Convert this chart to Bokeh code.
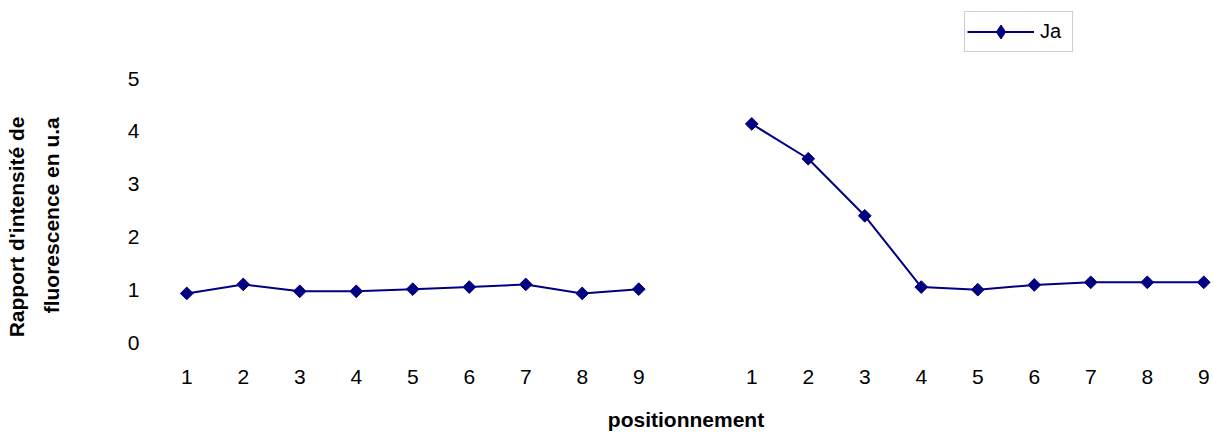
import math
from bokeh.plotting import figure
from bokeh.models import Legend, LegendItem, ColumnDataSource, FixedTicker, Range1d
from bokeh.embed import file_html
from bokeh.resources import INLINE

# ---- data ----
positions = ["1", "2", "3", "4", "5", "6", "7", "8", "9"]
group_a = [0.93, 1.10, 0.97, 0.97, 1.01, 1.05, 1.10, 0.93, 1.01]
group_b = [4.14, 3.48, 2.40, 1.05, 1.00, 1.09, 1.14, 1.14, 1.14]
series_name = "Ja"
y_ticks = [0, 1, 2, 3, 4, 5]
y_title = ["Rapport d'intensité de", "fluorescence en u.a"]
x_title = "positionnement"

# build one series with a blank category between the two groups
labels = positions + [""] + positions
values = group_a + [float("nan")] + group_b
xs = list(range(len(labels)))
src = ColumnDataSource(dict(x=xs, y=values))

W, H = 1213, 434
LEFT = 158
FRAME_H = 342          # frame spans the full height above the x axis
PX_PER_UNIT = 52.8
CAT_W = 56.5
p = figure(width=W, height=H, output_backend="svg", toolbar_location=None,
           min_border_left=LEFT, min_border_right=0, min_border_top=0,
           min_border_bottom=H - FRAME_H,
           x_range=Range1d(-0.5, -0.5 + (W - LEFT) / CAT_W),
           y_range=Range1d(0, FRAME_H / PX_PER_UNIT))
p.outline_line_color = None
p.background_fill_color = "white"
p.border_fill_color = "white"
p.grid.visible = False

navy = "#000080"
ln = p.line("x", "y", source=src, line_color=navy, line_width=2)
sc = p.scatter("x", "y", source=src, marker="square", angle=math.pi / 4,
               size=9, fill_color=navy, line_color=navy)
# legend-only glyph (a single undrawn NaN point) so the key shows a diamond
key = p.scatter(x=[float("nan")], y=[float("nan")], marker="diamond", size=15,
                fill_color=navy, line_color=navy)

font = "Liberation Sans"
# x axis
p.xaxis.ticker = FixedTicker(ticks=[x for x, l in zip(xs, labels) if l])
p.xaxis.major_label_overrides = {x: l for x, l in zip(xs, labels) if l}
p.xaxis.axis_line_color = None
p.xaxis.major_tick_line_color = None
p.xaxis.minor_tick_line_color = None
p.xaxis.major_tick_out = 0
p.xaxis.major_tick_in = 0
p.xaxis.major_label_standoff = 27
p.xaxis.major_label_text_font = font
p.xaxis.major_label_text_font_size = "21px"
p.xaxis.major_label_text_line_height = 1.0
p.xaxis.major_label_text_color = "black"
p.xaxis.axis_label = x_title
p.xaxis.axis_label_text_font = font
p.xaxis.axis_label_text_font_size = "21px"
p.xaxis.axis_label_text_font_style = "bold"
p.xaxis.axis_label_text_line_height = 0.8
p.xaxis.axis_label_text_color = "black"
p.xaxis.axis_label_standoff = 21

# y axis (label shifted down with trailing no-break spaces so that it is
# centred on the 0-5 span rather than on the taller frame)
NB = "\u00a0"
p.yaxis.ticker = FixedTicker(ticks=y_ticks)
p.yaxis.axis_line_color = None
p.yaxis.major_tick_line_color = None
p.yaxis.minor_tick_line_color = None
p.yaxis.major_tick_out = 0
p.yaxis.major_tick_in = 0
p.yaxis.major_label_standoff = 19
p.yaxis.major_label_text_font = font
p.yaxis.major_label_text_font_size = "21px"
p.yaxis.major_label_text_color = "black"
p.yaxis.axis_label = y_title[0] + NB * 19 + "\n" + y_title[1] + NB * 15
p.yaxis.axis_label_text_font = font
p.yaxis.axis_label_text_font_size = "21px"
p.yaxis.axis_label_text_font_style = "bold"
p.yaxis.axis_label_text_color = "black"
p.yaxis.axis_label_text_line_height = 1.5
p.yaxis.axis_label_standoff = 62

legend = Legend(items=[LegendItem(label=series_name, renderers=[ln, key])],
                location=(964 - LEFT, FRAME_H - 52), orientation="vertical",
                border_line_color="#a0a0a0", border_line_width=1,
                label_text_font=font, label_text_font_size="20px",
                label_text_color="black",
                glyph_width=67, glyph_height=35, padding=2, margin=0,
                label_width=30, label_standoff=6, background_fill_alpha=1)
p.add_layout(legend, "center")

open("out.html", "w").write(file_html(p, INLINE))
